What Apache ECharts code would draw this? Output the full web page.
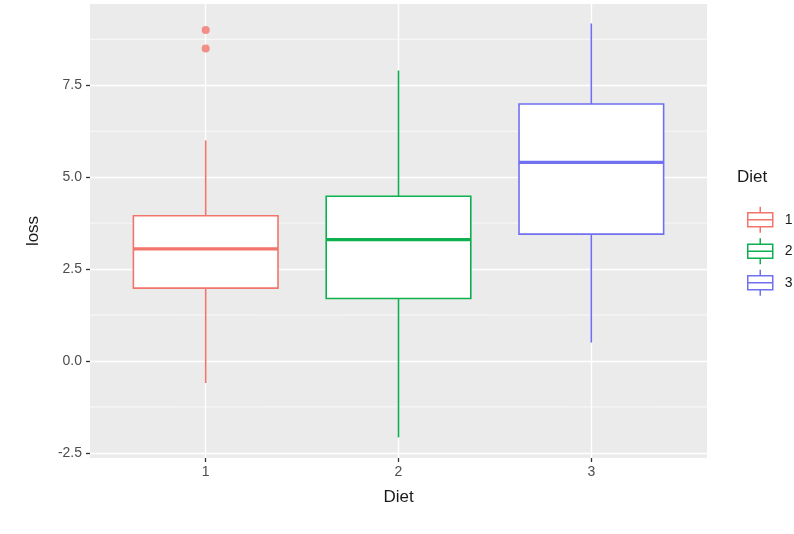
<!DOCTYPE html>
<html lang="en">
  <head>
    <meta charset="UTF-8" />
    <title>loss by Diet</title>
    <script src="https://cdnjs.cloudflare.com/ajax/libs/echarts/6.0.0/echarts.min.js"></script>
    <style>
      * {
        margin: 0;
        padding: 0;
      }
      body {
        background: #fff;
      }
      #chart {
        width: 794px;
        height: 534px;
      }
    </style>
  </head>
  <body>
    <div id="chart"></div>
    <script>
      // data
      const diets = ["1", "2", "3"];
      const colors = ["#F2756B", "#0DB04E", "#7070F0"];
      const lowWhisker = [-0.6, -2.08, 0.5];
      const q1 = [1.98, 1.7, 3.45];
      const median = [3.05, 3.3, 5.4];
      const q3 = [3.95, 4.48, 6.99];
      const highWhisker = [6.0, 7.9, 9.18];
      const outlierDiet = [1, 1];
      const outlierLoss = [9.0, 8.5];
      const xTicks = [1, 2, 3];
      const yTicks = [-2.5, 0, 2.5, 5, 7.5];
      const yMinor = [-1.25, 1.25, 3.75, 6.25, 8.75];

      const font = "Liberation Sans, Arial, sans-serif";
      const halfBox = 0.375;
      const xMin = 0.4;
      const xMax = 3.6;

      const myChart = echarts.init(document.getElementById("chart"));

      // box + whiskers, no caps (ggplot style)
      const renderBox = (color) => (params, api) => {
        const x = api.value(0);
        const lo = api.coord([x, api.value(1)]);
        const q1c = api.coord([x, api.value(2)]);
        const q3c = api.coord([x, api.value(4)]);
        const hi = api.coord([x, api.value(5)]);
        const bl = api.coord([x - halfBox, api.value(2)]);
        const tr = api.coord([x + halfBox, api.value(4)]);
        const m1 = api.coord([x - halfBox, api.value(3)]);
        const m2 = api.coord([x + halfBox, api.value(3)]);
        return {
          type: "group",
          children: [
            {
              type: "line",
              shape: { x1: lo[0], y1: lo[1], x2: q1c[0], y2: q1c[1] },
              style: { stroke: color, lineWidth: 1.6 },
            },
            {
              type: "line",
              shape: { x1: q3c[0], y1: q3c[1], x2: hi[0], y2: hi[1] },
              style: { stroke: color, lineWidth: 1.6 },
            },
            {
              type: "rect",
              shape: {
                x: bl[0],
                y: tr[1],
                width: tr[0] - bl[0],
                height: bl[1] - tr[1],
              },
              style: { fill: "#fff", stroke: color, lineWidth: 1.6 },
            },
            {
              type: "line",
              shape: { x1: m1[0], y1: m1[1], x2: m2[0], y2: m2[1] },
              style: { stroke: color, lineWidth: 3.2 },
            },
          ],
        };
      };

      const keyIcon =
        "path://M12.5,0 L12.5,6 M0,6 L25,6 L25,20 L0,20 Z M0,13 L25,13 M12.5,20 L12.5,26";

      const boxSeries = diets.map((d, i) => ({
        name: d,
        type: "custom",
        z: 3,
        silent: true,
        itemStyle: { color: colors[i] },
        encode: { x: 0, y: [1, 2, 3, 4, 5] },
        renderItem: renderBox(colors[i]),
        data: [[i + 1, lowWhisker[i], q1[i], median[i], q3[i], highWhisker[i]]],
      }));

      const options = {
        animation: false,
        textStyle: { fontFamily: font },
        title: {
          text: "Diet",
          left: 737,
          top: 169,
          padding: 0,
          textStyle: {
            fontFamily: font,
            fontSize: 17,
            fontWeight: "normal",
            color: "#1A1A1A",
          },
        },
        legend: {
          orient: "vertical",
          left: 742,
          top: 201,
          itemWidth: 25,
          itemHeight: 26,
          itemGap: 4,
          selectedMode: false,
          textStyle: {
            fontFamily: font,
            fontSize: 14,
            color: "#1A1A1A",
            padding: [0, 0, 0, 7],
          },
          data: diets.map((d, i) => ({
            name: d,
            icon: keyIcon,
            itemStyle: {
              color: "#fff",
              borderColor: colors[i],
              borderWidth: 1.5,
            },
          })),
        },
        grid: {
          left: 90,
          right: 87,
          top: 4,
          bottom: 76,
          show: true,
          backgroundColor: "#EBEBEB",
          borderWidth: 0,
        },
        xAxis: {
          type: "value",
          min: xMin,
          max: xMax,
          name: "Diet",
          nameLocation: "middle",
          nameGap: 31,
          nameTextStyle: { fontFamily: font, fontSize: 17, color: "#1A1A1A" },
          axisLine: { show: false, onZero: false },
          axisTick: {
            show: true,
            length: 4,
            customValues: xTicks,
            lineStyle: { color: "#333", width: 1.3 },
          },
          axisLabel: {
            customValues: xTicks,
            formatter: (v) => String(v),
            fontFamily: font,
            fontSize: 14,
            color: "#4D4D4D",
            margin: 7,
          },
          splitLine: { show: true, lineStyle: { color: "#fff", width: 1.4 } },
        },
        yAxis: {
          type: "value",
          min: -2.64,
          max: 9.71,
          name: "loss",
          nameLocation: "middle",
          nameRotate: 90,
          nameGap: 48,
          nameTextStyle: { fontFamily: font, fontSize: 17, color: "#1A1A1A" },
          axisLine: { show: false, onZero: false },
          axisTick: {
            show: true,
            length: 4,
            customValues: yTicks,
            lineStyle: { color: "#333", width: 1.3 },
          },
          axisLabel: {
            customValues: yTicks,
            formatter: (v) => v.toFixed(1),
            fontFamily: font,
            fontSize: 14,
            color: "#4D4D4D",
            margin: 8,
          },
          splitLine: { show: true, lineStyle: { color: "#fff", width: 1.4 } },
        },
        series: [
          // minor grid lines
          {
            type: "custom",
            name: "minor",
            z: 1,
            silent: true,
            encode: { x: 0, y: 1 },
            renderItem: (params, api) => {
              const a = api.coord([xMin, api.value(1)]);
              const b = api.coord([xMax, api.value(1)]);
              return {
                type: "line",
                shape: { x1: a[0], y1: a[1], x2: b[0], y2: b[1] },
                style: { stroke: "#fff", lineWidth: 0.7 },
              };
            },
            data: yMinor.map((v) => [xMin, v]),
          },
          ...boxSeries,
          {
            type: "scatter",
            name: "outliers",
            z: 4,
            silent: true,
            symbolSize: 8,
            itemStyle: { color: colors[0] },
            data: outlierDiet.map((d, i) => [d, outlierLoss[i]]),
          },
        ],
      };
      myChart.setOption(options);
    </script>
  </body>
</html>
